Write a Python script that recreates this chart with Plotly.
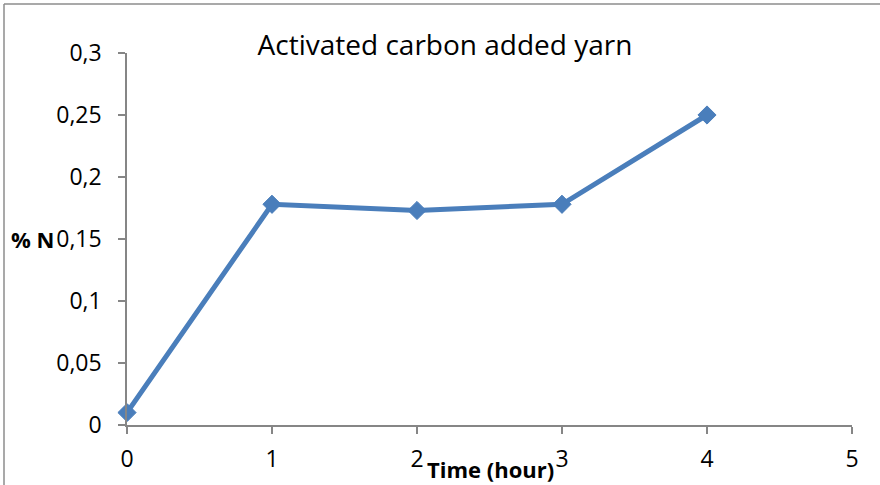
import plotly.graph_objects as go

# Nitrogen content over time for the activated-carbon yarn
time_hours = [0, 1, 2, 3, 4]
percent_n = [0.01, 0.178, 0.173, 0.178, 0.25]

x_ticks = [0, 1, 2, 3, 4, 5]
y_ticks = [0, 0.05, 0.1, 0.15, 0.2, 0.25, 0.3]

title_text = "Activated carbon added yarn"
x_title = "Time (hour)"
y_title = "% N"

FONT = "Open Sans"
BLUE = "#4a7ebb"
AXIS_GREY = "#868686"

W, H = 880, 485
L, R, T, B = 127, 28, 53, 60
plot_w = W - L - R
plot_h = H - T - B


def px_to_paper_x(px):
    return (px - L) / plot_w


def px_to_paper_y(py):
    return (H - B - py) / plot_h


fig = go.Figure()
fig.add_trace(go.Scatter(
    x=time_hours,
    y=percent_n,
    mode="lines+markers",
    line=dict(color=BLUE, width=5),
    marker=dict(symbol="diamond", size=14, color=BLUE,
                line=dict(color=BLUE, width=1)),
    showlegend=False,
    cliponaxis=False,
))

axis_common = dict(
    showgrid=False,
    zeroline=False,
    showline=True,
    linecolor=AXIS_GREY,
    linewidth=1.5,
    ticks="outside",
    ticklen=7,
    tickwidth=1.5,
    tickcolor=AXIS_GREY,
    tickfont=dict(family=FONT, size=23, color="#000000"),
    automargin=False,
)

fig.update_xaxes(range=[0, 5], tickvals=x_ticks, ticktext=[str(v) for v in x_ticks],
                 ticklabelstandoff=6, **axis_common)
fig.update_yaxes(range=[0, 0.3], tickvals=y_ticks, ticklabelstandoff=12, **axis_common)

fig.update_layout(
    width=W,
    height=H,
    margin=dict(l=L, r=R, t=T, b=B, pad=0),
    paper_bgcolor="white",
    plot_bgcolor="white",
    separators=",.",
    title=dict(
        text=title_text,
        x=445 / W,
        xanchor="center",
        y=1 - 45 / H,
        yanchor="middle",
        font=dict(family=FONT, size=28, color="#000000"),
    ),
    annotations=[
        dict(text=f"<b>{y_title}</b>", xref="paper", yref="y",
             x=px_to_paper_x(56), y=0.15, xanchor="right", yanchor="middle",
             showarrow=False, font=dict(family=FONT, size=22, color="#000000")),
        dict(text=f"<b>{x_title}</b>", xref="paper", yref="paper",
             x=px_to_paper_x(490), y=px_to_paper_y(469), xanchor="center",
             yanchor="middle", showarrow=False,
             font=dict(family=FONT, size=22, color="#000000")),
    ],
    shapes=[
        # chart frame: left and top edges
        dict(type="line", xref="paper", yref="paper", layer="below",
             x0=px_to_paper_x(4), x1=px_to_paper_x(4),
             y0=px_to_paper_y(4), y1=px_to_paper_y(H + 10),
             line=dict(color="#8c8c8c", width=1.5)),
        dict(type="line", xref="paper", yref="paper", layer="below",
             x0=px_to_paper_x(4), x1=px_to_paper_x(W + 10),
             y0=px_to_paper_y(4), y1=px_to_paper_y(4),
             line=dict(color="#8c8c8c", width=1.5)),
    ],
)

fig.write_html("out.html")
